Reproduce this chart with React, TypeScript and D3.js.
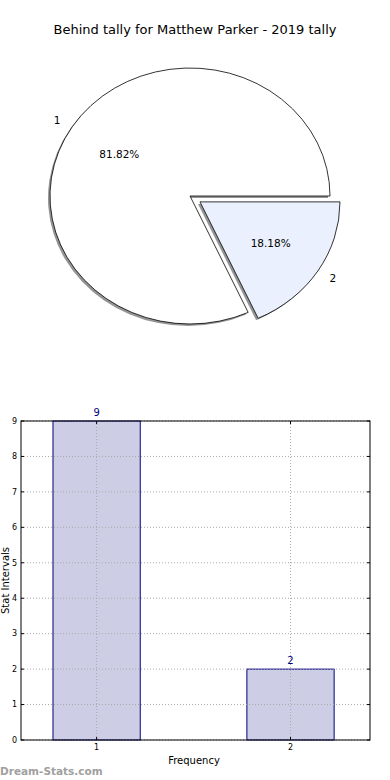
import React from "react";
import * as d3 from "d3";

const title = "Behind tally for Matthew Parker - 2019 tally";
const pieLabels = ["1", "2"];
const pieValues = [9, 2];
const pieColors = ["#ffffff", "#eaf0fd"];
const pieExplode = [0, 0.085];

const barCategories = [1, 2];
const barValues = [9, 2];
const yTicks = [0, 1, 2, 3, 4, 5, 6, 7, 8, 9];

const W = 390;
const H = 780;

export default function App() {
  // Pie geometry
  const cx = 190, cy = 196, rx = 140, ry = 128;
  const total = d3.sum(pieValues);
  const pie = d3.pie<number>().sort(null).startAngle(Math.PI / 2).endAngle(Math.PI / 2 - 2 * Math.PI);
  const arcs = pie(pieValues);
  const arcGen = d3.arc<d3.PieArcDatum<number>>().innerRadius(0).outerRadius(rx);
  const sy = ry / rx;

  // Bar geometry
  const left = 21, right = 370, top = 421, bottom = 740;
  const x = d3.scaleLinear().domain([0.61, 2.41]).range([left, right]);
  const y = d3.scaleLinear().domain([0, 9]).range([bottom, top]);
  const barW = 0.45;

  const font = "DejaVu Sans, sans-serif";

  return (
    <svg width={W} height={H} style={{ position: "absolute", left: 0, top: 0, background: "#fff" }} fontFamily={font}>
      <rect x={0} y={0} width={W} height={H} fill="#fff" />
      <text x={195} y={34} textAnchor="middle" fontSize={13} fill="#000">{title}</text>

      {/* shadows */}
      <g transform={`translate(${cx - 2},${cy + 2}) scale(1,${sy})`}>
        {arcs.map((a, i) => {
          const mid = (a.startAngle + a.endAngle) / 2;
          const e = pieExplode[i] * rx;
          return (
            <path key={i} d={arcGen(a) || ""} transform={`translate(${e * Math.sin(mid)},${-e * Math.cos(mid)})`}
              fill="#888" fillOpacity={0.9} stroke="none" />
          );
        })}
      </g>
      {/* slices */}
      <g transform={`translate(${cx},${cy}) scale(1,${sy})`}>
        {arcs.map((a, i) => {
          const mid = (a.startAngle + a.endAngle) / 2;
          const e = pieExplode[i] * rx;
          return (
            <path key={i} d={arcGen(a) || ""} transform={`translate(${e * Math.sin(mid)},${-e * Math.cos(mid)})`}
              fill={pieColors[i]} stroke="#000" strokeWidth={0.8} vectorEffect="non-scaling-stroke" />
          );
        })}
      </g>
      {arcs.map((a, i) => {
        const mid = (a.startAngle + a.endAngle) / 2;
        const sx = Math.sin(mid), cyv = -Math.cos(mid);
        const e = pieExplode[i];
        const ox = cx + e * rx * sx, oy = cy + e * ry * cyv;
        const lx = ox + 1.1 * rx * sx, ly = oy + 1.1 * ry * cyv;
        const px = ox + 0.6 * rx * sx, py = oy + 0.6 * ry * cyv;
        const pct = ((pieValues[i] / total) * 100).toFixed(2) + "%";
        return (
          <g key={i} fontSize={10.5} fill="#000">
            <text x={lx} y={ly} dy="0.35em" textAnchor={sx < 0 ? "end" : "start"}>{pieLabels[i]}</text>
            <text x={px} y={py} dy="0.35em" textAnchor="middle">{pct}</text>
          </g>
        );
      })}

      {/* bar chart */}
      {barCategories.map((c, i) => (
        <rect key={i} x={x(c - barW / 2)} y={y(barValues[i])} width={x(c + barW / 2) - x(c - barW / 2)}
          height={y(0) - y(barValues[i])} fill="#cdcde6" stroke="#000080" strokeWidth={1} />
      ))}
      {/* grid */}
      {yTicks.map((t) => (
        <line key={"gy" + t} x1={left} x2={right} y1={y(t)} y2={y(t)} stroke="#aaa" strokeWidth={1} strokeDasharray="1,2" />
      ))}
      {barCategories.map((c) => (
        <line key={"gx" + c} x1={x(c)} x2={x(c)} y1={top} y2={bottom} stroke="#aaa" strokeWidth={1} strokeDasharray="1,2" />
      ))}
      {/* ticks */}
      {yTicks.map((t) => (
        <g key={"ty" + t}>
          <line x1={left} x2={left + 3} y1={y(t)} y2={y(t)} stroke="#000" />
          <line x1={right} x2={right - 3} y1={y(t)} y2={y(t)} stroke="#000" />
          <text x={left - 4} y={y(t)} dy="0.35em" textAnchor="end" fontSize={8} fill="#000">{t}</text>
        </g>
      ))}
      {barCategories.map((c) => (
        <g key={"tx" + c}>
          <line x1={x(c)} x2={x(c)} y1={bottom} y2={bottom - 3} stroke="#000" />
          <line x1={x(c)} x2={x(c)} y1={top} y2={top + 3} stroke="#000" />
          <text x={x(c)} y={bottom + 10} textAnchor="middle" fontSize={8} fill="#000">{c}</text>
        </g>
      ))}
      <rect x={left} y={top} width={right - left} height={bottom - top} fill="none" stroke="#000" strokeWidth={1} />
      {barCategories.map((c, i) => (
        <text key={"v" + c} x={x(c)} y={y(barValues[i]) - 5} textAnchor="middle" fontSize={10} fill="#000080">{barValues[i]}</text>
      ))}
      <text x={194} y={764} textAnchor="middle" fontSize={10} fill="#000">Frequency</text>
      <text transform={`translate(9,${(top + bottom) / 2}) rotate(-90)`} textAnchor="middle" fontSize={10} fill="#000">Stat Intervals</text>
      <text x={0} y={775} fontSize={10.5} fontWeight="bold" fill="#a0a0a0">Dream-Stats.com</text>
    </svg>
  );
}
